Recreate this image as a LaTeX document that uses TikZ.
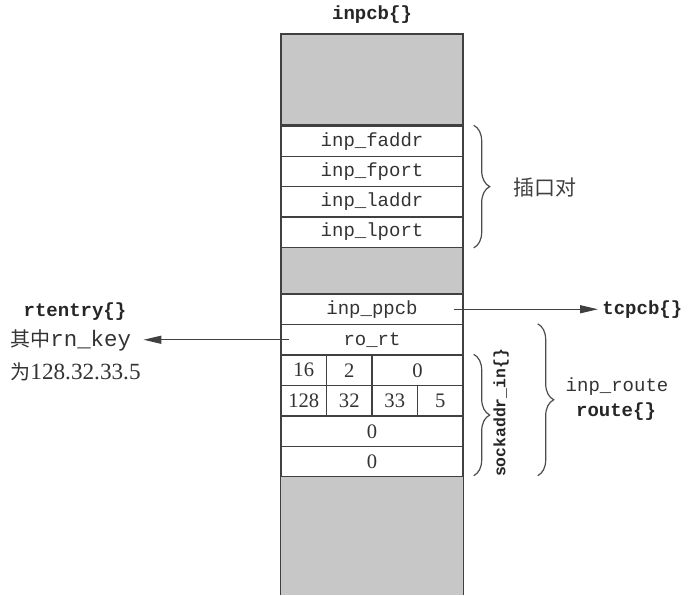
\documentclass[tikz,border=0pt]{standalone}
\usepackage{fontspec}
\setmainfont{Liberation Serif}
\setmonofont{Liberation Mono}
\newfontfamily\cjk{Noto Sans CJK SC}
\usetikzlibrary{positioning,arrows.meta,decorations.pathreplacing,calc}

\newcommand\fieldfont{\ttfamily\fontsize{9.5}{11}\selectfont}
\newcommand\tagfont{\ttfamily\bfseries\fontsize{9.5}{11}\selectfont}
\newcommand\numfont{\rmfamily\fontsize{10.3}{12}\selectfont}

\tikzset{
  field/.style={draw=black!75,line width=0.7pt,minimum width=91pt,minimum height=15.25pt,
    inner sep=0pt,text=black!80,font=\fieldfont},
  shaded/.style={field,fill=black!22},
  cell/.style={field,minimum width=22.75pt,font=\numfont},
  tag/.style={text=black!85,font=\tagfont},
  note/.style={text=black!80,font=\fieldfont},
  arr/.style={-{Triangle[length=9pt,width=4pt]},line width=0.7pt,draw=black!75},
  brc/.style={decorate,decoration={brace,amplitude=8pt},draw=black!70,line width=0.6pt}
}

\begin{document}
\begin{tikzpicture}[x=0.5pt,y=-0.5pt]
\useasboundingbox (0,0) rectangle (688,595);
% the inpcb structure
\node[tag] (inpcb) at (372,15) {inpcb\{\}};
\node[shaded,minimum height=45.5pt] (top) at (372,79.5) {};
\foreach \f [count=\i] in {faddr,fport,laddr,lport}
  \node[field,minimum height=15.15pt] (\f) at (372,{126+30.3*(\i-0.5)}) {inp\_\f};
\node[shaded,minimum height=23.4pt] (mid) at (372,270.6) {};
\node[field] (ppcb) at (372,309.25) {inp\_ppcb};
\node[field] (rort) at (372,339.75) {ro\_rt};
% sockaddr_in
\node[cell] (fam) at (303.75,370.25) {16};
\node[cell] (len) at (349.25,370.25) {2};
\node[cell,minimum width=45.5pt] (port) at (417.5,370.25) {0};
\foreach \v [count=\i] in {128,32,33,5}
  \node[cell] (ip\i) at ({281+45.5*(\i-0.5)},400.75) {\v};
\node[field,font=\numfont] (zeroa) at (372,431.25) {0};
\node[field,font=\numfont] (zerob) at (372,461.75) {0};
\node[fill=black!22,minimum width=91pt,minimum height=59pt,inner sep=0pt] (bot) at (372,536) {};
\draw[black!75,line width=0.7pt] (bot.north west) -- (bot.south west) (bot.north east) -- (bot.south east);

% socket pair
\draw[brc] ([xshift=5pt]faddr.north east) -- ([xshift=5pt]lport.south east);
\node[font=\cjk\fontsize{10.5}{12}\selectfont,text=black!75] (pair) at (545,188) {插口对};

% pointers
\node[tag,anchor=west,inner sep=2pt] (tcpcb) at (598,309.25) {tcpcb\{\}};
\draw[arr] ([xshift=-5pt]ppcb.east) -- (ppcb.east -| tcpcb.west);

\node[tag] (rtentry) at (75,312) {rtentry\{\}};
\node[note,anchor=west,inner sep=2pt,font=\ttfamily\fontsize{11.2}{13}\selectfont] (key) at (6,340) {{\cjk\fontsize{10}{12}\selectfont 其中}rn\_key};
\node[note,anchor=west,inner sep=2pt] (val) at (6,372) {{\cjk\fontsize{10}{12}\selectfont 为}{\rmfamily\fontsize{11.6}{13}\selectfont 128.32.33.5}};
\draw[arr,shorten >=4pt] ([xshift=4.5pt]rort.west) -- (rort.west -| key.east);

% route
\draw[brc] ([xshift=5pt]port.north east) -- ([xshift=5pt,yshift=1pt]zerob.south east);
\node[tag,rotate=90,font=\ttfamily\bfseries\fontsize{8.2}{10}\selectfont] (sin) at (501,413) {sockaddr\_in\{\}};
\draw[brc] ([xshift=37pt]rort.north east) -- ([xshift=37pt,yshift=1pt]zerob.south east);
\node[note] (route) at (617,387) {inp\_route};
\node[tag] (routeb) at (616,412) {route\{\}};
\end{tikzpicture}
\end{document}
